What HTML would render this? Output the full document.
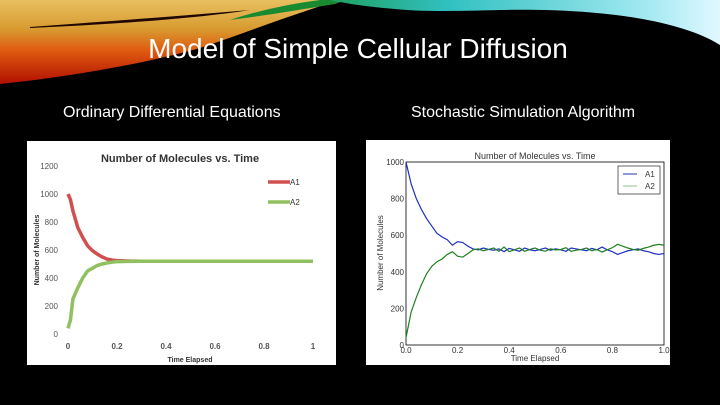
<!DOCTYPE html>
<html><head><meta charset="utf-8"><style>
body{margin:0;background:#000;}
#wrap{position:relative;width:720px;height:405px;overflow:hidden;background:#000;font-family:"Liberation Sans",sans-serif;}
.t{position:absolute;color:#fff;white-space:nowrap;}
</style></head><body>
<div id="wrap">
<svg width="720" height="405" style="position:absolute;left:0;top:0">
<defs>
<linearGradient id="warm" x1="0" y1="0" x2="0" y2="1">
<stop offset="0" stop-color="#e8c060"/><stop offset="0.35" stop-color="#d89a30"/><stop offset="0.6" stop-color="#e05a10"/><stop offset="1" stop-color="#b01000"/></linearGradient>
<linearGradient id="cool" x1="0" y1="0" x2="1" y2="0">
<stop offset="0" stop-color="#20a060"/><stop offset="0.3" stop-color="#30c0c0"/><stop offset="0.8" stop-color="#a0e8f0"/><stop offset="1" stop-color="#e0f8ff"/></linearGradient>
</defs>
<path d="M0,0 L340,0 C290,15 240,35 200,48 C140,65 60,78 0,84 Z" fill="url(#warm)"/>
<path d="M30,27 C100,22 180,16 250,10 C200,18 120,24 30,28 Z" fill="#200800"/>
<path d="M230,20 C260,10 290,4 320,0 L360,0 C310,8 270,15 230,20 Z" fill="#1a8a30"/>
<path d="M330,0 L720,0 L720,45 C680,20 600,8 500,10 C420,12 370,12 330,0 Z" fill="url(#cool)"/>
<path d="M340,2 C420,18 560,6 720,60 L720,405 L0,405 L0,90 C120,75 250,40 340,2 Z" fill="#000"/>
</svg>
<div class="t" style="left:0;width:716px;text-align:center;top:33px;font-size:28px;">Model of Simple Cellular Diffusion</div>
<div class="t" style="left:63px;top:104px;font-size:16px;">Ordinary Differential Equations</div>
<div class="t" style="left:411px;top:104px;font-size:16px;">Stochastic Simulation Algorithm</div>
<svg id="c1" width="720" height="405" style="position:absolute;left:0;top:0"></svg>
<svg id="c2" width="720" height="405" style="position:absolute;left:0;top:0"></svg>
</div>
<script>
// ODE chart data
const odeT=[0,0.01,0.02,0.04,0.06,0.08,0.1,0.12,0.14,0.16,0.18,0.2,0.25,0.3,1];
const odeA1=[1000,960,880,760,690,630,595,570,550,535,528,524,521,520,520];
const odeA2=[40,100,250,330,400,450,470,490,500,508,513,517,519,520,520];
const odeYTicks=[0,200,400,600,800,1000,1200];
const odeXTicks=[0,0.2,0.4,0.6,0.8,1];
// SSA chart data (step 0.02)
const ssaA1=[1000,880,800,740,690,650,610,590,575,545,565,560,540,525,520,530,522,518,525,510,528,520,512,530,520,515,522,530,518,525,520,512,530,525,520,515,528,520,535,520,510,495,505,515,520,525,515,510,500,495,500];
const ssaA2=[40,180,260,330,390,430,455,470,495,510,485,480,500,520,525,515,522,530,512,535,510,520,530,512,522,530,518,512,525,520,522,532,512,518,522,530,515,522,508,520,532,550,540,530,522,518,528,535,545,550,545];
const ssaYTicks=[0,200,400,600,800,1000];
const ssaXTicks=[0,0.2,0.4,0.6,0.8,1.0];
const NS='http://www.w3.org/2000/svg';
function mk(p,tag,at,txt){const e=document.createElementNS(NS,tag);for(const k in at)e.setAttribute(k,at[k]);if(txt!==undefined)e.textContent=txt;p.appendChild(e);return e;}

// ODE chart
(function(){
const s=document.getElementById('c1');
const bg=mk(s,'rect',{x:27,y:141,width:309,height:224,fill:'#fff'});


const X=t=>68+t*245, Y=v=>334-v*168/1200;
odeYTicks.forEach(v=>{const e=mk(s,'text',{x:58,y:Y(v)+3,'font-size':8,fill:'#555','text-anchor':'end'},v);

});
odeXTicks.forEach(v=>{const e=mk(s,'text',{x:X(v),y:349,'font-size':8,fill:'#555','text-anchor':'middle','font-weight':'bold'},v);

});
const tt=mk(s,'text',{x:180,y:162,'font-size':11,'font-weight':'bold',fill:'#333','text-anchor':'middle'},'Number of Molecules vs. Time');


const xl=mk(s,'text',{x:190,y:362,'font-size':7,'font-weight':'bold',fill:'#333','text-anchor':'middle'},'Time Elapsed');


const yl=mk(s,'text',{x:0,y:0,'font-size':7,'font-weight':'bold',fill:'#333','text-anchor':'middle',transform:'translate(39,250) rotate(-90)'},'Number of Molecules');


const l1=mk(s,'path',{d:'M'+odeT.map((t,i)=>X(t)+','+Y(odeA1[i])).join(' L'),stroke:'#d05050',fill:'none','stroke-width':3.5});


const l2=mk(s,'path',{d:'M'+odeT.map((t,i)=>X(t)+','+Y(odeA2[i])).join(' L'),stroke:'#90c060',fill:'none','stroke-width':3.5});


[['A1','#d05050',182],['A2','#90c060',202]].forEach(([n,c,y])=>{
const g=mk(s,'g',{});


mk(g,'line',{x1:268,x2:290,y1:y,y2:y,stroke:c,'stroke-width':3.5});
mk(g,'text',{x:290,y:y+3,'font-size':8,fill:'#333'},n);});
})();

// SSA chart
(function(){
const s=document.getElementById('c2');
const bg=mk(s,'rect',{x:366,y:140,width:304,height:225,fill:'#fff'});


const X=t=>406+t*258, Y=v=>345-v*0.183;
const fr=mk(s,'rect',{x:406,y:162,width:258,height:183,fill:'none',stroke:'#000','stroke-width':0.8});


ssaYTicks.forEach(v=>{const e=mk(s,'text',{x:404,y:Y(v)+3,'font-size':8,fill:'#333','text-anchor':'end'},v);

});
ssaXTicks.forEach(v=>{const e=mk(s,'text',{x:X(v),y:353,'font-size':8,fill:'#333','text-anchor':'middle'},v.toFixed(1));

});
const tt=mk(s,'text',{x:535,y:159,'font-size':9,fill:'#333','text-anchor':'middle'},'Number of Molecules vs. Time');


const xl=mk(s,'text',{x:535,y:361,'font-size':8,fill:'#333','text-anchor':'middle'},'Time Elapsed');


const yl=mk(s,'text',{x:0,y:0,'font-size':8,fill:'#333','text-anchor':'middle',transform:'translate(383,253) rotate(-90)'},'Number of Molecules');


const n=ssaA1.length;
const l1=mk(s,'path',{d:'M'+ssaA1.map((v,i)=>X(i/(n-1))+','+Y(v)).join(' L'),stroke:'#2030c0',fill:'none','stroke-width':1.2});


const l2=mk(s,'path',{d:'M'+ssaA2.map((v,i)=>X(i/(n-1))+','+Y(v)).join(' L'),stroke:'#208020',fill:'none','stroke-width':1.2});


const lg=mk(s,'rect',{x:618,y:166,width:42,height:28,fill:'#fff',stroke:'#000','stroke-width':0.6});


[['A1','#2030c0',174],['A2','#90c090',186]].forEach(([t,c,y])=>{
const g=mk(s,'g',{});


mk(g,'line',{x1:623,x2:637,y1:y,y2:y,stroke:c,'stroke-width':1});
mk(g,'text',{x:645,y:y+3,'font-size':8,fill:'#333'},t);});
})();
</script>
</body></html>
